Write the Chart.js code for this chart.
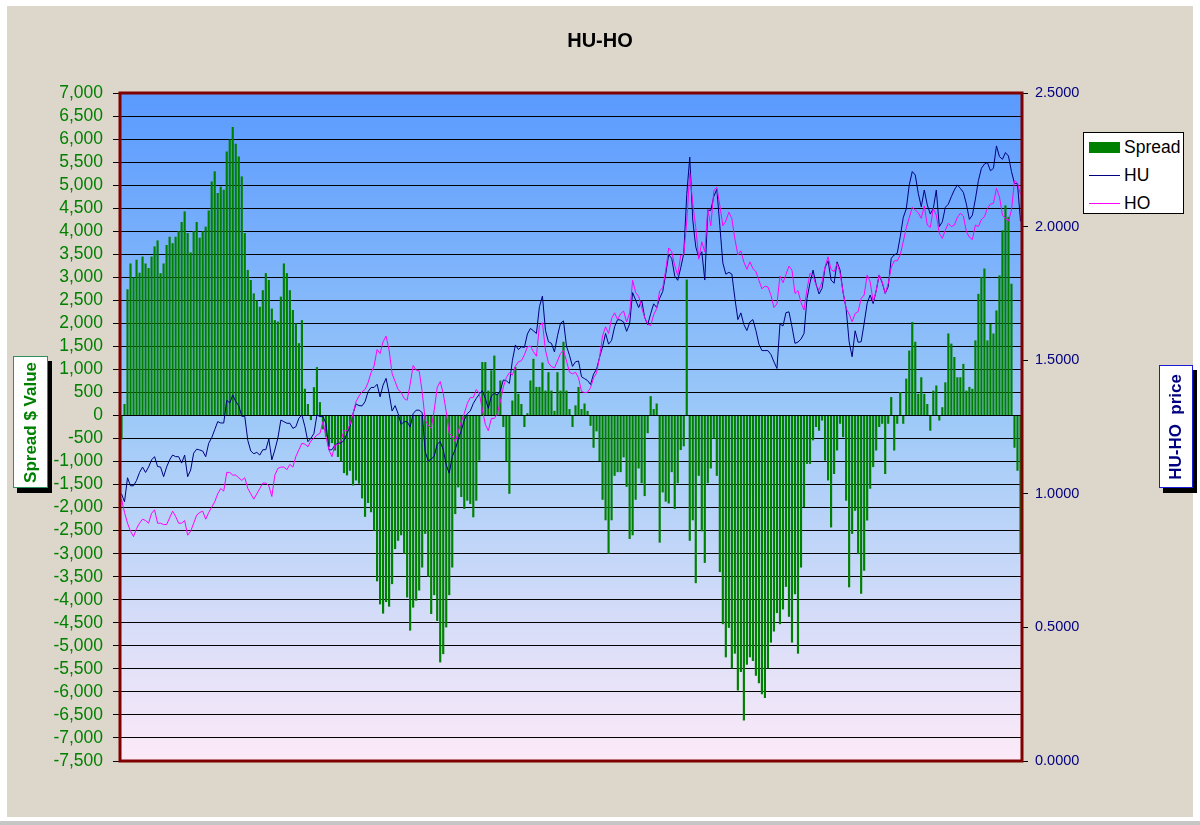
<!DOCTYPE html>
<html>
<head>
<meta charset="utf-8">
<script src="https://cdn.jsdelivr.net/npm/chart.js@4.4.1/dist/chart.umd.min.js"></script>
<style>
  body { margin: 0; width: 1200px; height: 825px; background: #fff; position: relative; overflow: hidden; font-family: Arial, "Liberation Sans", sans-serif; }
  #panel { position: absolute; left: 7px; top: 6px; width: 1186px; height: 811px; background: #ddd6ca; }
  #strip { position: absolute; left: 0; top: 821px; width: 1200px; height: 4px; background: #c6c6c6; }
  #chartcanvas { position: absolute; left: 0; top: 0; }
  #title { position: absolute; left: 0; top: 30px; width: 1200px; text-align: center; font: bold 20px/20px Arial, "Liberation Sans", sans-serif; color: #000; }
  .axtitle { position: absolute; background: #fff; box-shadow: 4px 5px 0 #000; display: flex; align-items: center; justify-content: center; }
  .axtitle span { writing-mode: vertical-rl; transform: rotate(180deg); font: bold 17px Arial, "Liberation Sans", sans-serif; white-space: pre; }
  #lefttitle { left: 13px; top: 356px; width: 33px; height: 130px; border: 1px solid #2f8f5f; }
  #lefttitle span { color: #008000; }
  #righttitle { left: 1159px; top: 365px; width: 32px; height: 121px; border: 1px solid #1c1cd8; }
  #righttitle span { color: #000080; }
  #legend { position: absolute; left: 1083px; top: 132px; width: 99px; height: 80px; background: #fff; border: 1px solid #000; }
  .legrow { height: 28px; display: flex; align-items: center; font: 17.5px Arial, "Liberation Sans", sans-serif; color: #000; }
  .legrow i { display: inline-block; width: 31px; margin: 0 4px 0 5px; }
</style>
</head>
<body>
<div id="panel"></div>
<div id="strip"></div>
<canvas id="chartcanvas" width="1200" height="825"></canvas>
<div id="title">HU-HO</div>
<div class="axtitle" id="lefttitle"><span>Spread $ Value</span></div>
<div class="axtitle" id="righttitle"><span>HU-HO  price</span></div>
<div id="legend"></div>
<script>
// spread in $ (left axis), HU and HO prices (right axis), one value per trading day
const spread = [
  -520, 250, 2740, 3300, 3000, 3380, 3100, 3450, 3300, 3200,
  3450, 3670, 3800, 3090, 3300, 3700, 3880, 3740, 3880, 4000,
  4200, 4430, 3960, 3540, 4000, 4200, 3860, 4000, 4100, 4450,
  5080, 5300, 4830, 4970, 4900, 5730, 5990, 6260, 5900, 5620,
  5190, 3960, 3160, 2940, 2650, 2500, 2360, 2720, 3090, 2940,
  2320, 2070, 2040, 2580, 3300, 3090, 2720, 2290, 2000, 1570,
  2070, 580, 250, -100, 615, 1050, 290, -300, -460, -680,
  -600, -760, -900, -1000, -1250, -1300, -1200, -1520, -1410, -1480,
  -1800, -2200, -1900, -2100, -2500, -3600, -4100, -4300, -4050, -4150,
  -3660, -2900, -2720, -2600, -3000, -3950, -4670, -4170, -4020, -3800,
  -3300, -2570, -3500, -4310, -3900, -4460, -5360, -5180, -4600, -3900,
  -3300, -2140, -1560, -1770, -2030, -1850, -1920, -2210, -1850, -980,
  1160, 1160, 540, 980, 1300, 470, 760, -250, -1000, -1700,
  325, 1050, 470, 250, -250, 50, 760, 1230, 620, 620,
  1150, 540, 940, 540, 100, 940, 540, 1600, 540, 140,
  -250, 220, 620, 140, 260, 100, -225, -700, -345, -990,
  -1830, -2275, -3000, -2275, -1310, -1230, -1230, -910, -1550, -2680,
  -2600, -1830, -1150, -1470, -1750, -385, 420, 140, 260, -2760,
  -1670, -1870, -1910, -1230, -2030, -1470, -750, -670, 2950, -2720,
  -2275, -3640, -1310, -2515, -3200, -1470, -1150, -505, -1310, -3400,
  -4530, -5250, -4610, -5490, -5170, -5970, -5570, -6620, -5410, -5250,
  -5330, -5650, -5810, -6050, -6130, -5490, -4930, -4690, -4290, -4530,
  -4210, -3720, -4370, -4930, -3880, -5170, -3300, -1990, -1050, -1050,
  -540, -250, -330, -110, -980, -1410, -2430, -1270, -760, -180,
  -470, -1850, -3730, -2570, -2070, -3010, -3870, -3370, -2280, -1590,
  -1120, -760, -250, -180, -1270, -180, 400, -760, -180, 510,
  -180, 800, 1410, 2030, 1600, 470, 830, 470, 250, -330,
  540, 650, -110, 180, 720, 1780, 1560, 1270, 830, 830,
  1120, 540, 620, 580, 1630, 2640, 3010, 3190, 1630, 1990,
  1780, 2280, 3040, 4020, 4560, 4310, 2860, -700, -1200, -3000
]

const hu = [
  1.00, 0.97, 1.06, 1.03, 1.03, 1.05, 1.08, 1.10, 1.08, 1.10,
  1.127, 1.139, 1.102, 1.10, 1.064, 1.10, 1.127, 1.145, 1.139, 1.139,
  1.115, 1.145, 1.064, 1.089, 1.152, 1.167, 1.164, 1.16, 1.139, 1.189,
  1.21, 1.24, 1.27, 1.265, 1.265, 1.35, 1.34, 1.37, 1.345, 1.33,
  1.29, 1.29, 1.20, 1.16, 1.15, 1.155, 1.145, 1.165, 1.165, 1.205,
  1.127, 1.164, 1.208, 1.276, 1.27, 1.264, 1.264, 1.245, 1.251, 1.283,
  1.295, 1.251, 1.195, 1.208, 1.226, 1.295, 1.289, 1.289, 1.264, 1.164,
  1.165, 1.183, 1.189, 1.19, 1.20, 1.226, 1.251, 1.30, 1.336, 1.33,
  1.329, 1.345, 1.382, 1.398, 1.398, 1.41, 1.363, 1.407, 1.432, 1.376,
  1.31, 1.33, 1.30, 1.26, 1.27, 1.27, 1.25, 1.30, 1.313, 1.313,
  1.304, 1.158, 1.123, 1.13, 1.14, 1.186, 1.195, 1.166, 1.108, 1.077,
  1.139, 1.166, 1.204, 1.236, 1.276, 1.30, 1.31, 1.338, 1.357, 1.373,
  1.386, 1.357, 1.32, 1.366, 1.376, 1.37, 1.386, 1.426, 1.423, 1.413,
  1.498, 1.557, 1.54, 1.55, 1.548, 1.598, 1.619, 1.61, 1.60, 1.70,
  1.74, 1.612, 1.569, 1.563, 1.531, 1.591, 1.638, 1.647, 1.553, 1.518,
  1.477, 1.494, 1.497, 1.438, 1.431, 1.424, 1.409, 1.448, 1.466, 1.511,
  1.55, 1.60, 1.56, 1.574, 1.625, 1.652, 1.65, 1.643, 1.608, 1.636,
  1.753, 1.725, 1.697, 1.725, 1.66, 1.633, 1.674, 1.711, 1.697, 1.732,
  1.757, 1.822, 1.895, 1.881, 1.815, 1.799, 1.846, 1.899, 2.12, 2.26,
  2.024, 1.924, 1.885, 1.906, 1.80, 2.061, 2.061, 2.113, 2.14, 2.003,
  1.864, 1.822, 1.829, 1.822, 1.732, 1.652, 1.677, 1.633, 1.611, 1.643,
  1.652, 1.611, 1.56, 1.536, 1.536, 1.536, 1.521, 1.494, 1.469, 1.636,
  1.628, 1.678, 1.681, 1.625, 1.563, 1.568, 1.579, 1.60, 1.731, 1.79,
  1.837, 1.785, 1.748, 1.769, 1.847, 1.872, 1.80, 1.788, 1.868, 1.837,
  1.753, 1.694, 1.569, 1.513, 1.61, 1.567, 1.569, 1.638, 1.713, 1.744,
  1.712, 1.76, 1.819, 1.79, 1.75, 1.775, 1.881, 1.894, 1.90, 1.962,
  2.034, 2.066, 2.156, 2.206, 2.193, 2.124, 2.074, 2.137, 2.081, 2.047,
  2.068, 2.137, 2.0, 2.018, 2.072, 2.084, 2.112, 2.137, 2.156, 2.143,
  2.128, 2.084, 2.027, 2.043, 2.103, 2.172, 2.218, 2.234, 2.24, 2.209,
  2.218, 2.302, 2.262, 2.252, 2.277, 2.264, 2.206, 2.162, 2.16, 2.02
]

const ho = [
  0.98, 0.93, 0.89, 0.86, 0.84, 0.87, 0.89, 0.905, 0.90, 0.89,
  0.927, 0.94, 0.89, 0.89, 0.885, 0.885, 0.91, 0.935, 0.915, 0.89,
  0.89, 0.90, 0.845, 0.86, 0.89, 0.92, 0.93, 0.935, 0.905, 0.93,
  0.95, 0.97, 1.00, 1.02, 1.01, 1.08, 1.08, 1.07, 1.07, 1.06,
  1.05, 1.06, 1.02, 1.00, 0.98, 1.00, 1.02, 1.04, 1.04, 1.03,
  0.99, 1.07, 1.095, 1.10, 1.10, 1.09, 1.11, 1.10, 1.14, 1.165,
  1.189, 1.186, 1.176, 1.198, 1.208, 1.22, 1.226, 1.27, 1.214, 1.164,
  1.139, 1.183, 1.183, 1.20, 1.236, 1.236, 1.26, 1.30, 1.345, 1.366,
  1.382, 1.39, 1.416, 1.453, 1.478, 1.54, 1.525, 1.569, 1.59, 1.538,
  1.45, 1.42, 1.39, 1.38, 1.357, 1.35, 1.41, 1.48, 1.463, 1.46,
  1.382, 1.276, 1.257, 1.245, 1.313, 1.398, 1.42, 1.376, 1.307, 1.226,
  1.216, 1.195, 1.232, 1.27, 1.30, 1.338, 1.36, 1.36, 1.39, 1.376,
  1.316, 1.26, 1.236, 1.282, 1.282, 1.30, 1.345, 1.40, 1.435, 1.453,
  1.444, 1.478, 1.494, 1.498, 1.52, 1.55, 1.553, 1.532, 1.515, 1.63,
  1.64, 1.538, 1.49, 1.476, 1.471, 1.497, 1.525, 1.538, 1.497, 1.455,
  1.449, 1.455, 1.434, 1.383, 1.379, 1.38, 1.397, 1.434, 1.452, 1.511,
  1.591, 1.625, 1.60, 1.656, 1.677, 1.652, 1.674, 1.684, 1.643, 1.677,
  1.799, 1.753, 1.739, 1.697, 1.66, 1.636, 1.629, 1.67, 1.693, 1.76,
  1.771, 1.836, 1.92, 1.906, 1.854, 1.818, 1.892, 1.895, 2.02, 2.20,
  2.086, 1.996, 1.878, 1.943, 1.906, 2.065, 2.003, 2.134, 2.148, 2.079,
  2.003, 2.021, 2.054, 2.03, 1.954, 1.894, 1.909, 1.867, 1.84, 1.868,
  1.843, 1.831, 1.799, 1.767, 1.777, 1.774, 1.743, 1.697, 1.711, 1.815,
  1.79, 1.821, 1.852, 1.837, 1.75, 1.76, 1.716, 1.688, 1.766, 1.825,
  1.815, 1.781, 1.762, 1.794, 1.85, 1.887, 1.84, 1.831, 1.862, 1.825,
  1.753, 1.694, 1.673, 1.644, 1.675, 1.682, 1.731, 1.744, 1.819, 1.794,
  1.719, 1.76, 1.819, 1.794, 1.75, 1.787, 1.847, 1.872, 1.872, 1.894,
  1.943, 1.996, 2.034, 2.072, 2.062, 2.052, 2.031, 2.077, 2.006, 1.997,
  2.068, 2.043, 1.975, 1.956, 1.987, 2.012, 2.0, 2.006, 2.034, 2.05,
  2.04, 1.981, 1.96, 1.952, 2.006, 2.0, 2.027, 2.037, 2.068, 2.084,
  2.087, 2.143, 2.112, 2.043, 2.03, 2.021, 2.062, 2.172, 2.164, 2.12
]

// trading day numbers (no labels are shown on the x axis)
const days = spread.map((v, i) => i + 1)

const spreadTicks = { min: -7500, max: 7000, step: 500 }
const priceTicks = { min: 0, max: 2.5, step: 0.5 }

// plot area fill (blue to pink) and the maroon frame round it
const plotFrame = {
  id: 'plotFrame',
  beforeDraw(chart) {
    const { ctx, chartArea } = chart
    const g = ctx.createLinearGradient(0, chartArea.top, 0, chartArea.bottom)
    g.addColorStop(0, '#5a9aff')
    g.addColorStop(0.48, '#9cc9f8')
    g.addColorStop(1, '#fdeaf8')
    ctx.save()
    ctx.fillStyle = g
    ctx.fillRect(chartArea.left, chartArea.top, chartArea.width, chartArea.height)
    ctx.restore()
  },
  afterDraw(chart) {
    const { ctx, chartArea } = chart
    ctx.save()
    ctx.strokeStyle = '#800000'
    ctx.lineWidth = 3
    ctx.strokeRect(chartArea.left, chartArea.top, chartArea.width, chartArea.height)
    ctx.restore()
  }
}

const ctx = document.getElementById('chartcanvas')

const chart = new Chart(ctx, {
  type: 'bar',
  data: {
    labels: days,
    datasets: [{
      type: 'bar',
      label: 'Spread',
      data: spread,
      yAxisID: 'y',
      backgroundColor: '#008000',
      borderWidth: 0,
      barPercentage: 0.72,
      categoryPercentage: 1,
      order: 3
    }, {
      type: 'line',
      label: 'HU',
      data: hu,
      yAxisID: 'y1',
      borderColor: '#000080',
      backgroundColor: '#000080',
      borderWidth: 1,
      pointRadius: 0,
      tension: 0,
      order: 2
    }, {
      type: 'line',
      label: 'HO',
      data: ho,
      yAxisID: 'y1',
      borderColor: '#ff00ff',
      backgroundColor: '#ff00ff',
      borderWidth: 1,
      pointRadius: 0,
      tension: 0,
      order: 1
    }]
  },
  options: {
    responsive: false,
    animation: false,
    layout: { padding: { top: 93, bottom: 64, left: 0, right: 0 } },
    plugins: {
      legend: { display: false },
      title: { display: false },
      tooltip: { enabled: false }
    },
    scales: {
      x: {
        display: false,
        grid: { display: false }
      },
      y: {
        position: 'left',
        min: spreadTicks.min,
        max: spreadTicks.max,
        afterFit: (scale) => { scale.width = 120 },
        ticks: {
          stepSize: spreadTicks.step,
          autoSkip: false,
          color: '#008000',
          padding: 10,
          font: { family: 'Arial, "Liberation Sans", sans-serif', size: 17.5 },
          callback: (v) => v.toLocaleString('en-US')
        },
        grid: { color: '#000', lineWidth: 1, tickLength: 7, tickColor: '#000' },
        border: { display: false }
      },
      y1: {
        position: 'right',
        min: priceTicks.min,
        max: priceTicks.max,
        afterFit: (scale) => { scale.width = 178 },
        ticks: {
          stepSize: priceTicks.step,
          autoSkip: false,
          color: '#000080',
          padding: 7,
          font: { family: 'Arial, "Liberation Sans", sans-serif', size: 14.5 },
          callback: (v) => Number(v).toFixed(4)
        },
        grid: { drawOnChartArea: false, tickLength: 6, tickColor: '#000' },
        border: { display: false }
      }
    }
  },
  plugins: [plotFrame]
})

// legend box built from the datasets
const legend = document.getElementById('legend')
chart.data.datasets.forEach(ds => {
  const row = document.createElement('div')
  row.className = 'legrow'
  const mark = document.createElement('i')
  if (ds.type === 'bar') {
    mark.style.height = '11px'
    mark.style.background = ds.backgroundColor
  } else {
    mark.style.height = '1px'
    mark.style.background = ds.borderColor
  }
  row.appendChild(mark)
  row.appendChild(document.createTextNode(ds.label))
  legend.appendChild(row)
})
</script>
</body>
</html>
